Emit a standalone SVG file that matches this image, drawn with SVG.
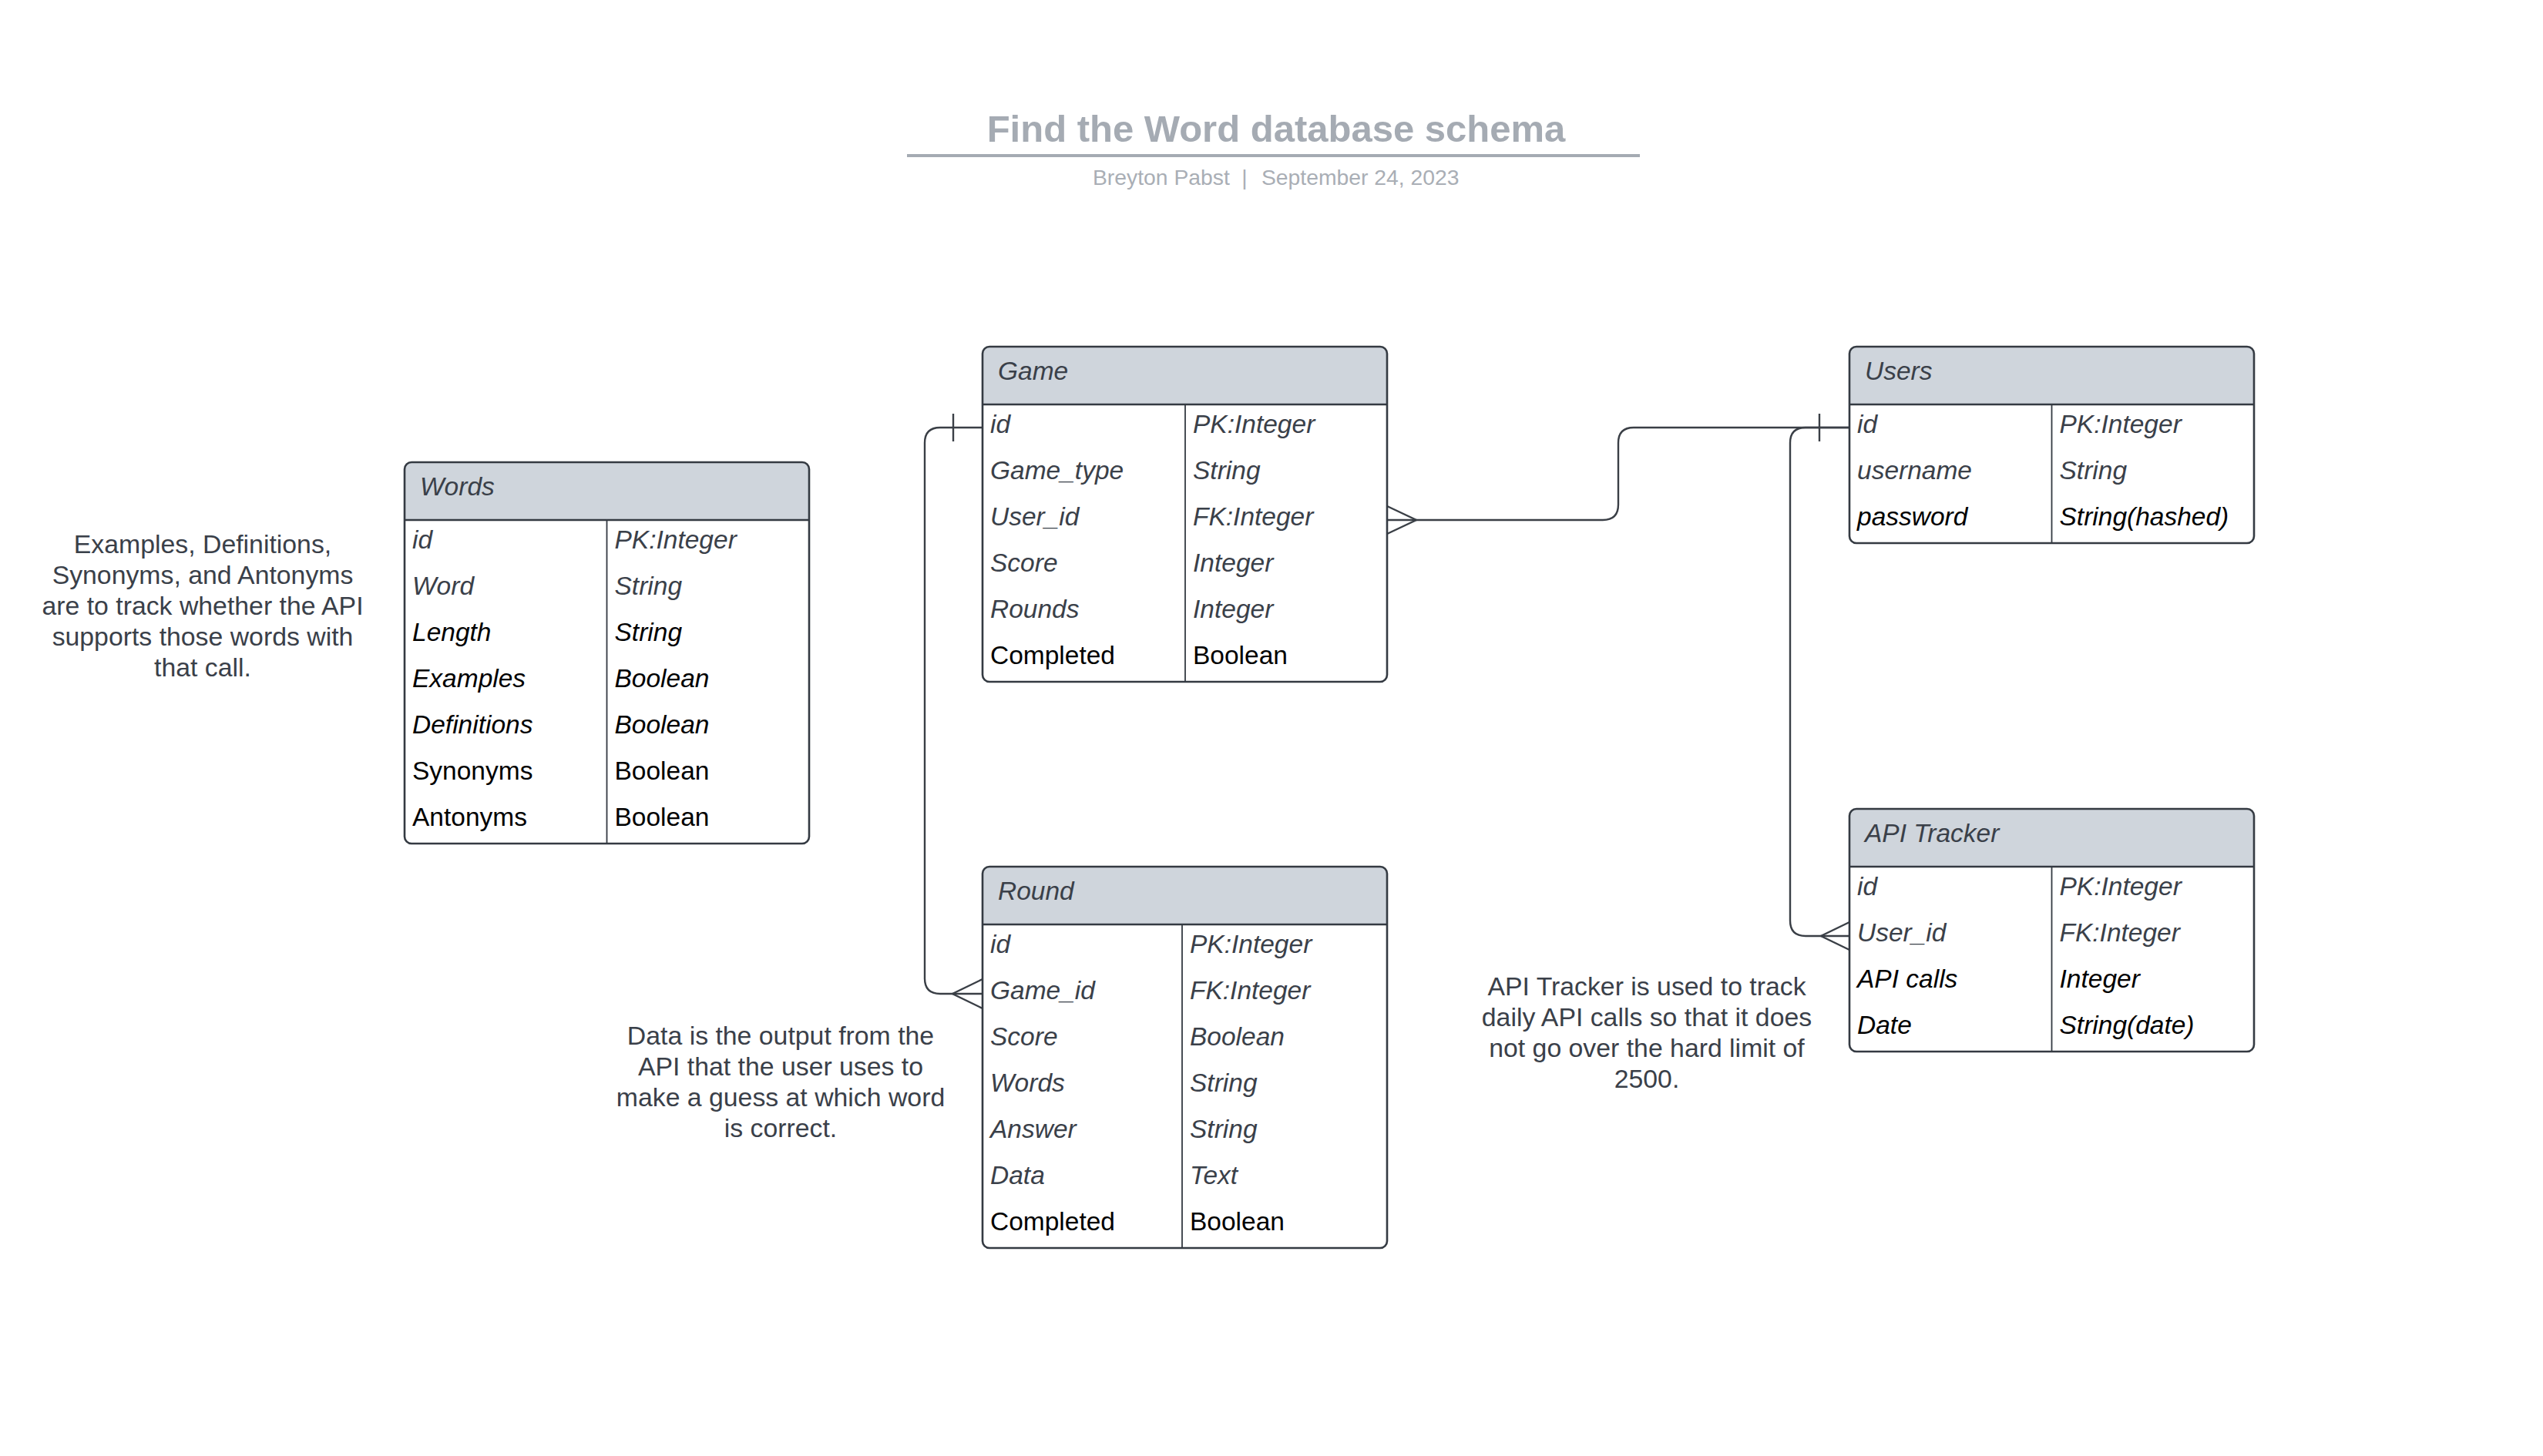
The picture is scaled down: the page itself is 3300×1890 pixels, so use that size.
<svg xmlns="http://www.w3.org/2000/svg" width="3300" height="1890" viewBox="0 0 3300 1890">
<style>
.bg{fill:#ffffff}
.box{fill:none;stroke:#343a42;stroke-width:2.6}
.body{fill:#ffffff}
.hdr{fill:#cfd5dc}
.sep{stroke:#343a42;stroke-width:2.6}
.dv{stroke:#343a42;stroke-width:1.8}
.t{font-family:"Liberation Sans",Arial,sans-serif;font-size:33.5px}
.g{fill:#3a4049;font-style:italic}
.bi{fill:#000000;font-style:italic}
.b{fill:#000000}
.note{font-family:"Liberation Sans",Arial,sans-serif;font-size:33.8px;fill:#3a4049;text-anchor:middle}
.ln{fill:none;stroke:#3a3f46;stroke-width:2.4}
.title{font-family:"Liberation Sans",Arial,sans-serif;font-size:49px;font-weight:bold;fill:#a5abb3;text-anchor:middle}
.sub{font-family:"Liberation Sans",Arial,sans-serif;font-size:28.3px;fill:#a9aeb5}
</style>
<rect class="bg" x="0" y="0" width="3300" height="1890"/>

<g id="title">
<text class="title" x="1656" y="184">Find the Word database schema</text>
<line x1="1177" y1="202" x2="2128" y2="202" stroke="#a5abb3" stroke-width="4"/>
<text class="sub" x="1418" y="240">Breyton Pabst</text>
<text class="sub" x="1615" y="240" text-anchor="middle">|</text>
<text class="sub" x="1637" y="240">September 24, 2023</text>
</g>

<g id="connectors">
<path class="ln" d="M1275,555 H1220 Q1200,555 1200,575 V1270 Q1200,1290 1220,1290 H1275"/>
<path class="ln" d="M1237,537 V573"/>
<path class="ln" d="M1275,1271 L1236,1290 L1275,1309"/>
<path class="ln" d="M1800,675 H2080 Q2100,675 2100,655 V575 Q2100,555 2120,555 H2400"/>
<path class="ln" d="M1800,657 L1838,675 L1800,693"/>
<path class="ln" d="M2361,537 V573"/>
<path class="ln" d="M2400,555 H2343 Q2323,555 2323,575 V1195 Q2323,1215 2343,1215 H2400"/>
<path class="ln" d="M2400,1197 L2363,1215 L2400,1233"/>
</g>

<g id="words">
<rect class="body" x="525" y="600" width="525" height="495" rx="9"/>
<path class="hdr" d="M525,675 V609 Q525,600 534,600 H1041 Q1050,600 1050,609 V675 Z"/>
<line class="sep" x1="525" y1="675" x2="1050" y2="675"/>
<line class="dv" x1="787.5" y1="675" x2="787.5" y2="1095"/>
<rect class="box" x="525" y="600" width="525" height="495" rx="9"/>
<text class="t g" x="545" y="643">Words</text>
<text class="t g" x="535" y="712">id</text><text class="t g" x="797.5" y="712">PK:Integer</text>
<text class="t g" x="535" y="772">Word</text><text class="t g" x="797.5" y="772">String</text>
<text class="t bi" x="535" y="832">Length</text><text class="t bi" x="797.5" y="832">String</text>
<text class="t bi" x="535" y="892">Examples</text><text class="t bi" x="797.5" y="892">Boolean</text>
<text class="t bi" x="535" y="952">Definitions</text><text class="t bi" x="797.5" y="952">Boolean</text>
<text class="t b" x="535" y="1012">Synonyms</text><text class="t b" x="797.5" y="1012">Boolean</text>
<text class="t b" x="535" y="1072">Antonyms</text><text class="t b" x="797.5" y="1072">Boolean</text>
</g>

<g id="game">
<rect class="body" x="1275" y="450" width="525" height="435" rx="9"/>
<path class="hdr" d="M1275,525 V459 Q1275,450 1284,450 H1791 Q1800,450 1800,459 V525 Z"/>
<line class="sep" x1="1275" y1="525" x2="1800" y2="525"/>
<line class="dv" x1="1538" y1="525" x2="1538" y2="885"/>
<rect class="box" x="1275" y="450" width="525" height="435" rx="9"/>
<text class="t g" x="1295" y="493">Game</text>
<text class="t g" x="1285" y="562">id</text><text class="t g" x="1548" y="562">PK:Integer</text>
<text class="t g" x="1285" y="622">Game_type</text><text class="t g" x="1548" y="622">String</text>
<text class="t g" x="1285" y="682">User_id</text><text class="t g" x="1548" y="682">FK:Integer</text>
<text class="t g" x="1285" y="742">Score</text><text class="t g" x="1548" y="742">Integer</text>
<text class="t g" x="1285" y="802">Rounds</text><text class="t g" x="1548" y="802">Integer</text>
<text class="t b" x="1285" y="862">Completed</text><text class="t b" x="1548" y="862">Boolean</text>
</g>

<g id="users">
<rect class="body" x="2400" y="450" width="525" height="255" rx="9"/>
<path class="hdr" d="M2400,525 V459 Q2400,450 2409,450 H2916 Q2925,450 2925,459 V525 Z"/>
<line class="sep" x1="2400" y1="525" x2="2925" y2="525"/>
<line class="dv" x1="2662.5" y1="525" x2="2662.5" y2="705"/>
<rect class="box" x="2400" y="450" width="525" height="255" rx="9"/>
<text class="t g" x="2420" y="493">Users</text>
<text class="t g" x="2410" y="562">id</text><text class="t g" x="2672.5" y="562">PK:Integer</text>
<text class="t g" x="2410" y="622">username</text><text class="t g" x="2672.5" y="622">String</text>
<text class="t bi" x="2410" y="682">password</text><text class="t bi" x="2672.5" y="682">String(hashed)</text>
</g>

<g id="api-tracker">
<rect class="body" x="2400" y="1050" width="525" height="315" rx="9"/>
<path class="hdr" d="M2400,1125 V1059 Q2400,1050 2409,1050 H2916 Q2925,1050 2925,1059 V1125 Z"/>
<line class="sep" x1="2400" y1="1125" x2="2925" y2="1125"/>
<line class="dv" x1="2662.5" y1="1125" x2="2662.5" y2="1365"/>
<rect class="box" x="2400" y="1050" width="525" height="315" rx="9"/>
<text class="t g" x="2420" y="1093">API Tracker</text>
<text class="t g" x="2410" y="1162">id</text><text class="t g" x="2672.5" y="1162">PK:Integer</text>
<text class="t g" x="2410" y="1222">User_id</text><text class="t g" x="2672.5" y="1222">FK:Integer</text>
<text class="t bi" x="2410" y="1282">API calls</text><text class="t bi" x="2672.5" y="1282">Integer</text>
<text class="t bi" x="2410" y="1342">Date</text><text class="t bi" x="2672.5" y="1342">String(date)</text>
</g>

<g id="round">
<rect class="body" x="1275" y="1125" width="525" height="495" rx="9"/>
<path class="hdr" d="M1275,1200 V1134 Q1275,1125 1284,1125 H1791 Q1800,1125 1800,1134 V1200 Z"/>
<line class="sep" x1="1275" y1="1200" x2="1800" y2="1200"/>
<line class="dv" x1="1534" y1="1200" x2="1534" y2="1620"/>
<rect class="box" x="1275" y="1125" width="525" height="495" rx="9"/>
<text class="t g" x="1295" y="1168">Round</text>
<text class="t g" x="1285" y="1237">id</text><text class="t g" x="1544" y="1237">PK:Integer</text>
<text class="t g" x="1285" y="1297">Game_id</text><text class="t g" x="1544" y="1297">FK:Integer</text>
<text class="t g" x="1285" y="1357">Score</text><text class="t g" x="1544" y="1357">Boolean</text>
<text class="t g" x="1285" y="1417">Words</text><text class="t g" x="1544" y="1417">String</text>
<text class="t g" x="1285" y="1477">Answer</text><text class="t g" x="1544" y="1477">String</text>
<text class="t g" x="1285" y="1537">Data</text><text class="t g" x="1544" y="1537">Text</text>
<text class="t b" x="1285" y="1597">Completed</text><text class="t b" x="1544" y="1597">Boolean</text>
</g>

<g id="note-words">
<text class="note" x="263" y="718">Examples, Definitions,</text>
<text class="note" x="263" y="758">Synonyms, and Antonyms</text>
<text class="note" x="263" y="798">are to track whether the API</text>
<text class="note" x="263" y="838">supports those words with</text>
<text class="note" x="263" y="878">that call.</text>
</g>

<g id="note-round">
<text class="note" x="1013" y="1356">Data is the output from the</text>
<text class="note" x="1013" y="1396">API that the user uses to</text>
<text class="note" x="1013" y="1436">make a guess at which word</text>
<text class="note" x="1013" y="1476">is correct.</text>
</g>

<g id="note-api">
<text class="note" x="2137" y="1292">API Tracker is used to track</text>
<text class="note" x="2137" y="1332">daily API calls so that it does</text>
<text class="note" x="2137" y="1372">not go over the hard limit of</text>
<text class="note" x="2137" y="1412">2500.</text>
</g>
</svg>
